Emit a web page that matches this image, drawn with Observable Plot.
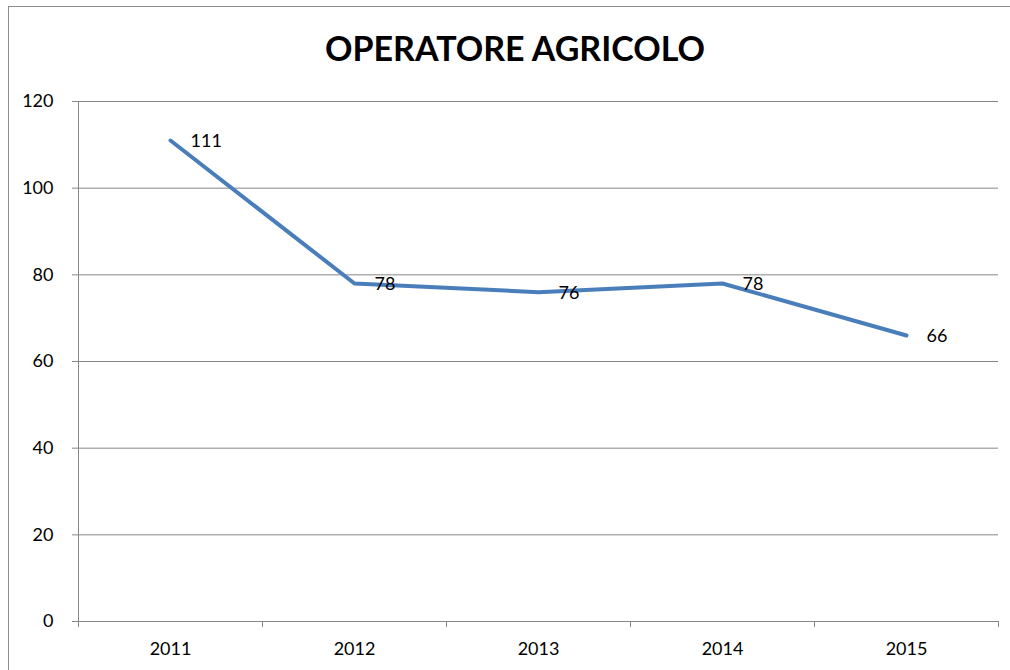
<!DOCTYPE html>
<html>
<head>
<meta charset="utf-8">
<script src="https://cdn.jsdelivr.net/npm/d3@7"></script>
<script src="https://cdn.jsdelivr.net/npm/@observablehq/plot@0.6"></script>
<style>
  html, body { margin: 0; padding: 0; background: #fff; overflow: hidden; }
  #wrap { position: relative; width: 1010px; height: 670px; overflow: hidden; font-family: Lato, "Liberation Sans", sans-serif; }
  #frame { position: absolute; left: 8px; top: 6px; width: 1100px; height: 800px; border: 1px solid #8c8c8c; box-sizing: border-box; }
  #title { position: absolute; left: 0; width: 1030px; top: 31px; line-height: 1; text-align: center; font-weight: bold; font-size: 34px; color: #000; }
  #chart { position: absolute; left: 0; top: 0; }
  #chart svg text { font-size: 18px; }
</style>
</head>
<body>
<div id="wrap">
  <div id="frame"></div>
  <div id="title">OPERATORE AGRICOLO</div>
  <div id="chart"></div>
</div>
<script>
const years = [2011, 2012, 2013, 2014, 2015];
const values = [111, 78, 76, 78, 66];
const yTicks = [0, 20, 40, 60, 80, 100, 120];

const data = years.map((year, i) => ({year, value: values[i]}));
const boundaries = [years[0] - 0.5, ...years.map(y => y + 0.5)];

const chart = Plot.plot({
  width: 1010,
  height: 670,
  marginLeft: 78,
  marginRight: 12,
  marginTop: 101,
  marginBottom: 49,
  style: {fontFamily: "Lato, 'Liberation Sans', sans-serif", fontSize: "18px", color: "#000", background: "transparent"},
  x: {type: "linear", domain: [boundaries[0], boundaries[boundaries.length - 1]]},
  y: {domain: [0, 120]},
  marks: [
    Plot.gridY(yTicks, {stroke: "#868686", strokeOpacity: 1, strokeWidth: 1}),
    Plot.axisY({ticks: yTicks, tickSize: 6, tickPadding: 19, stroke: "#868686", fill: "#000", label: null, fontSize: 18}),
    Plot.ruleX([boundaries[0]], {stroke: "#868686", strokeWidth: 1}),
    Plot.ruleY([0], {stroke: "#868686", strokeWidth: 1}),
    Plot.axisX({ticks: boundaries, tickSize: 6, tickFormat: () => "", stroke: "#868686", label: null}),
    Plot.axisX({ticks: years, tickSize: 0, tickPadding: 21, tickFormat: d => String(d), fill: "#000", label: null, fontSize: 18}),
    Plot.line(data, {x: "year", y: "value", stroke: "#4a7ebb", strokeWidth: 4, strokeLinecap: "round", strokeLinejoin: "round"}),
    Plot.text(data, {x: "year", y: "value", text: d => String(d.value), textAnchor: "start", dx: 20, dy: 1, fill: "#000", fontSize: 18})
  ]
});
document.getElementById("chart").appendChild(chart);
</script>
</body>
</html>
